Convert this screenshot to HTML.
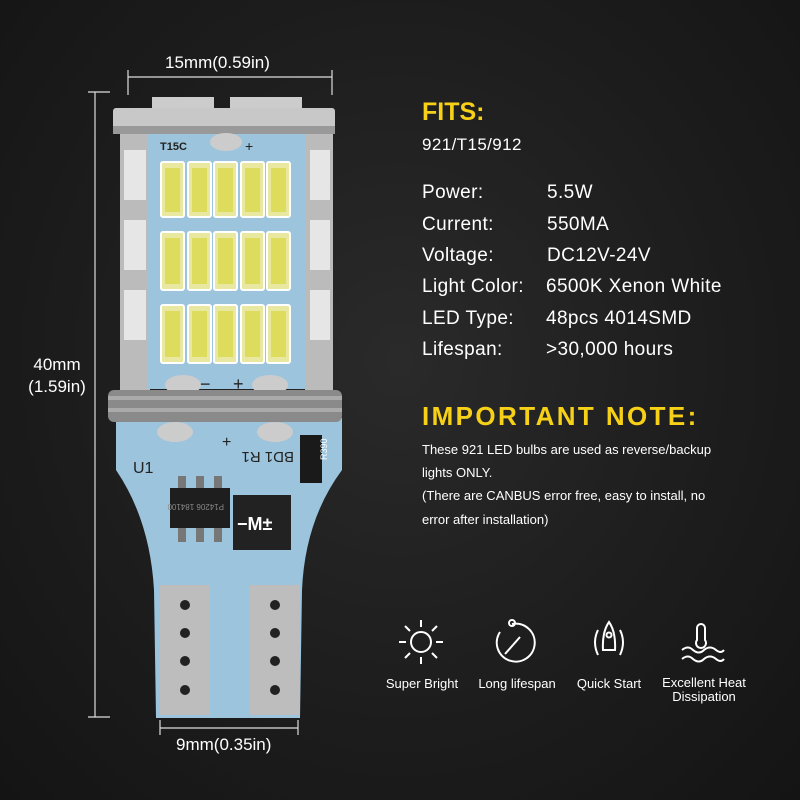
<!DOCTYPE html>
<html><head><meta charset="utf-8"><style>
body{margin:0;width:800px;height:800px;overflow:hidden;background:radial-gradient(ellipse at 50% 45%,#2a2a2a 0%,#1c1c1c 60%,#141414 100%);font-family:"Liberation Sans",sans-serif;color:#fff;position:relative}
.t{position:absolute;white-space:nowrap}
.lab{font-size:19px;letter-spacing:0.4px}
.y{color:#f7d117;font-weight:bold}
.n{font-size:13px}
.ic{font-size:13px;text-align:center;width:100px}
</style></head><body>
<svg width="800" height="800" style="position:absolute;left:0;top:0">
<g stroke="#ddd" stroke-width="1.2" fill="none">
<line x1="128" y1="77" x2="332" y2="77"/><line x1="128" y1="70" x2="128" y2="95"/><line x1="332" y1="70" x2="332" y2="95"/>
<line x1="95" y1="92" x2="95" y2="717"/><line x1="88" y1="92" x2="110" y2="92"/><line x1="88" y1="717" x2="110" y2="717"/>
<line x1="160" y1="728" x2="298" y2="728"/><line x1="160" y1="720" x2="160" y2="735"/><line x1="298" y1="720" x2="298" y2="735"/>
</g>
<rect x="152" y="97" width="62" height="14" fill="#ccc"/><rect x="230" y="97" width="72" height="14" fill="#ccc"/>
<rect x="120" y="130" width="30" height="260" fill="#bbb"/><rect x="305" y="130" width="28" height="260" fill="#bbb"/>
<g fill="#e6e6e6"><rect x="124" y="150" width="22" height="50"/><rect x="124" y="220" width="22" height="50"/><rect x="124" y="290" width="22" height="50"/><rect x="310" y="150" width="20" height="50"/><rect x="310" y="220" width="20" height="50"/><rect x="310" y="290" width="20" height="50"/></g>
<rect x="113" y="108" width="222" height="26" rx="3" fill="#c8c8c8"/><rect x="113" y="126" width="222" height="8" fill="#999"/>
<rect x="148" y="134" width="158" height="255" fill="#9cc4dc"/>
<text x="160" y="150" font-size="11" font-weight="bold" fill="#222">T15C</text>
<text x="245" y="151" font-size="14" fill="#222">+</text>
<ellipse cx="226" cy="142" rx="16" ry="9" fill="#ccc"/>
<g fill="#e8e8a0" stroke="#fff" stroke-width="2">
<rect x="161" y="162" width="23" height="55" rx="2"/><rect x="188" y="162" width="23" height="55" rx="2"/><rect x="214" y="162" width="23" height="55" rx="2"/><rect x="241" y="162" width="23" height="55" rx="2"/><rect x="267" y="162" width="23" height="55" rx="2"/>
<rect x="161" y="232" width="23" height="58" rx="2"/><rect x="188" y="232" width="23" height="58" rx="2"/><rect x="214" y="232" width="23" height="58" rx="2"/><rect x="241" y="232" width="23" height="58" rx="2"/><rect x="267" y="232" width="23" height="58" rx="2"/>
<rect x="161" y="305" width="23" height="58" rx="2"/><rect x="188" y="305" width="23" height="58" rx="2"/><rect x="214" y="305" width="23" height="58" rx="2"/><rect x="241" y="305" width="23" height="58" rx="2"/><rect x="267" y="305" width="23" height="58" rx="2"/>
</g>
<g fill="#dedc5c"><rect x="165" y="168" width="15" height="44"/><rect x="192" y="168" width="15" height="44"/><rect x="218" y="168" width="15" height="44"/><rect x="245" y="168" width="15" height="44"/><rect x="271" y="168" width="15" height="44"/>
<rect x="165" y="238" width="15" height="46"/><rect x="192" y="238" width="15" height="46"/><rect x="218" y="238" width="15" height="46"/><rect x="245" y="238" width="15" height="46"/><rect x="271" y="238" width="15" height="46"/>
<rect x="165" y="311" width="15" height="46"/><rect x="192" y="311" width="15" height="46"/><rect x="218" y="311" width="15" height="46"/><rect x="245" y="311" width="15" height="46"/><rect x="271" y="311" width="15" height="46"/></g>
<ellipse cx="183" cy="385" rx="18" ry="10" fill="#ccc"/><ellipse cx="270" cy="385" rx="18" ry="10" fill="#ccc"/>
<text x="200" y="390" font-size="18" fill="#222">−</text><text x="233" y="390" font-size="18" fill="#222">+</text>
<path d="M116 418 L342 418 L342 470 Q305 520 302 590 L300 718 L156 718 L154 590 Q150 520 116 470 Z" fill="#9cc4dc"/>
<rect x="108" y="390" width="234" height="32" rx="6" fill="#8a8a8a"/><rect x="108" y="396" width="234" height="4" fill="#aaa"/><rect x="108" y="408" width="234" height="4" fill="#aaa"/>
<ellipse cx="175" cy="432" rx="18" ry="10" fill="#ccc"/><ellipse cx="275" cy="432" rx="18" ry="10" fill="#ccc"/>
<text x="222" y="447" font-size="16" fill="#222">+</text>
<text x="133" y="473" font-size="16" fill="#222">U1</text>
<text x="242" y="462" font-size="15" fill="#222" transform="rotate(180 268 457)">BD1 R1</text>
<rect x="300" y="435" width="22" height="48" fill="#1a1a1a"/><text x="315" y="472" font-size="9" fill="#fff" transform="rotate(-90 315 460)">R390</text>
<g fill="#777"><rect x="178" y="476" width="8" height="16"/><rect x="196" y="476" width="8" height="16"/><rect x="214" y="476" width="8" height="16"/><rect x="178" y="526" width="8" height="16"/><rect x="196" y="526" width="8" height="16"/><rect x="214" y="526" width="8" height="16"/></g>
<rect x="170" y="488" width="60" height="40" fill="#1e1e1e"/>
<text x="176" y="508" font-size="8" fill="#888" transform="rotate(180 200 506)">P14206 184100</text>
<rect x="233" y="495" width="58" height="55" fill="#222"/>
<text x="237" y="530" font-size="18" font-weight="bold" fill="#fff">−M±</text>
<g fill="#bdbdbd"><rect x="160" y="585" width="50" height="130"/><rect x="250" y="585" width="50" height="130"/></g>
<g fill="#222"><circle cx="185" cy="605" r="5"/><circle cx="185" cy="633" r="5"/><circle cx="185" cy="661" r="5"/><circle cx="185" cy="690" r="5"/>
<circle cx="275" cy="605" r="5"/><circle cx="275" cy="633" r="5"/><circle cx="275" cy="661" r="5"/><circle cx="275" cy="690" r="5"/></g>
<g stroke="#fff" stroke-width="2" fill="none">
<circle cx="421" cy="642" r="10"/>
<line x1="421" y1="620" x2="421" y2="627"/><line x1="421" y1="657" x2="421" y2="664"/><line x1="399" y1="642" x2="406" y2="642"/><line x1="436" y1="642" x2="443" y2="642"/>
<line x1="405" y1="626" x2="410" y2="631"/><line x1="432" y1="653" x2="437" y2="658"/><line x1="405" y1="658" x2="410" y2="653"/><line x1="432" y1="631" x2="437" y2="626"/>
<path d="M512 624 A19 19 0 1 1 500 632"/><circle cx="512" cy="623" r="3"/><line x1="505" y1="654" x2="520" y2="637"/>
<path d="M598 630 Q592 642 598 655"/><path d="M620 630 Q626 642 620 655"/>
<path d="M609 622 Q602 632 603 650 L615 650 Q616 632 609 622 Z"/><circle cx="609" cy="635" r="2.5"/>
<path d="M697 628 L697 640 A5 5 0 1 0 705 640 L705 628 A4 4 0 0 0 697 628"/>
<path d="M682 650 Q688 645 693 650 Q699 655 704 650 Q710 645 716 650 Q721 654 724 650"/>
<path d="M682 659 Q688 654 693 659 Q699 664 704 659 Q710 654 716 659 Q721 663 724 659"/>
</g>
</svg>
<div class="t" style="left:165px;top:53px;font-size:17px">15mm(0.59in)</div>
<div class="t" style="left:20px;top:354px;font-size:17px;text-align:center;width:74px;line-height:22px">40mm<br>(1.59in)</div>
<div class="t" style="left:176px;top:735px;font-size:17px">9mm(0.35in)</div>
<div class="t y" style="left:422px;top:98px;font-size:25px">FITS:</div>
<div class="t lab" style="left:422px;top:135px;font-size:17px">921/T15/912</div>
<div class="t lab" style="left:422px;top:182px">Power:</div><div class="t lab" style="left:547px;top:182px">5.5W</div>
<div class="t lab" style="left:422px;top:214px">Current:</div><div class="t lab" style="left:547px;top:214px">550MA</div>
<div class="t lab" style="left:422px;top:245px">Voltage:</div><div class="t lab" style="left:547px;top:245px">DC12V-24V</div>
<div class="t lab" style="left:422px;top:276px">Light Color:</div><div class="t lab" style="left:546px;top:276px">6500K Xenon White</div>
<div class="t lab" style="left:422px;top:308px">LED Type:</div><div class="t lab" style="left:546px;top:308px">48pcs 4014SMD</div>
<div class="t lab" style="left:422px;top:339px">Lifespan:</div><div class="t lab" style="left:546px;top:339px">&gt;30,000 hours</div>
<div class="t y" style="left:422px;top:401px;font-size:26px;letter-spacing:2.4px">IMPORTANT NOTE:</div>
<div class="t n" style="left:422px;top:442px">These 921 LED bulbs are used as reverse/backup</div>
<div class="t n" style="left:422px;top:465px">lights ONLY.</div>
<div class="t n" style="left:422px;top:488px">(There are CANBUS error free, easy to install, no</div>
<div class="t n" style="left:422px;top:512px">error after installation)</div>
<div class="t ic" style="left:372px;top:676px">Super Bright</div>
<div class="t ic" style="left:467px;top:676px">Long lifespan</div>
<div class="t ic" style="left:559px;top:676px">Quick Start</div>
<div class="t ic" style="left:654px;top:676px;line-height:14px">Excellent Heat<br>Dissipation</div>
</body></html>
